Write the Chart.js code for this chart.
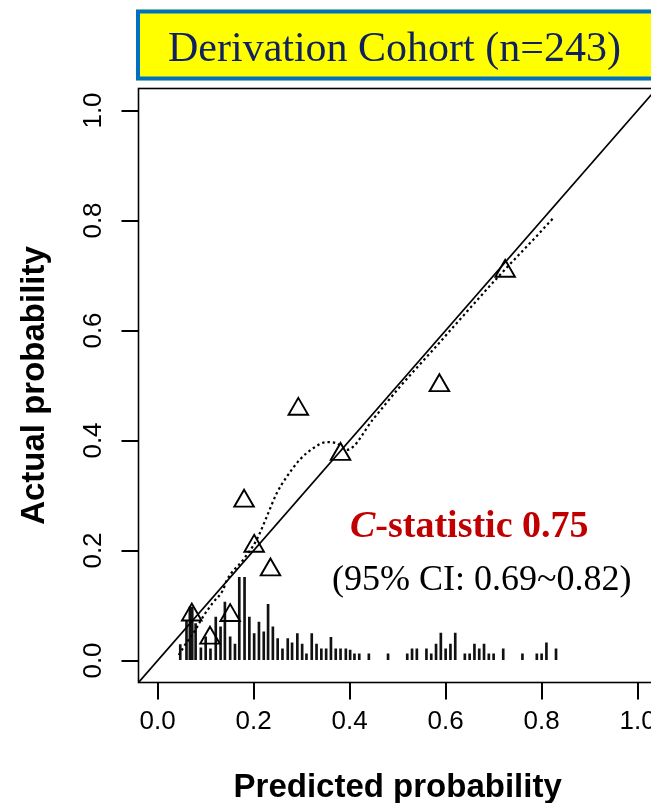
<!DOCTYPE html>
<html><head><meta charset="utf-8">
<script src="https://cdn.jsdelivr.net/npm/chart.js@4.4.1/dist/chart.umd.min.js"></script>
<style>
html,body{margin:0;padding:0;overflow:hidden;background:#fff;width:651px;height:803px}
canvas{display:block}
</style></head>
<body>
<canvas id="c" width="670" height="820"></canvas>
<script>
// ---- text ----
const titleText = "Derivation Cohort (n=243)";
const statC = "C";
const statRest = "-statistic 0.75";
const ciText = "(95% CI: 0.69~0.82)";
const xAxisTitle = "Predicted probability";
const yAxisTitle = "Actual probability";
const tickValues = [0, 0.2, 0.4, 0.6, 0.8, 1.0];

// ---- grouped observations (triangles) ----
const groupPred = [0.071, 0.109, 0.151, 0.180, 0.201, 0.235, 0.293, 0.381, 0.587, 0.724];
const groupObs  = [0.083, 0.041, 0.082, 0.290, 0.208, 0.165, 0.457, 0.375, 0.500, 0.708];

// ---- smoothed calibration curve (dotted) ----
const curveX = [0.044, 0.053, 0.078, 0.094, 0.115, 0.136, 0.144, 0.178, 0.206, 0.227, 0.248, 0.269, 0.296, 0.324, 0.352, 0.373, 0.394, 0.450, 0.505, 0.574, 0.644, 0.713, 0.790, 0.826];
const curveY = [0.010, 0.023, 0.055, 0.079, 0.105, 0.128, 0.146, 0.183, 0.219, 0.261, 0.304, 0.334, 0.365, 0.386, 0.397, 0.395, 0.383, 0.440, 0.498, 0.565, 0.634, 0.701, 0.772, 0.806];

// ---- ideal line ----
const idealX = [-0.04, 1.04];
const idealY = [-0.04, 1.04];

// ---- spike histogram of predicted probabilities ----
const spikeX = [0.047, 0.060, 0.067, 0.072, 0.079, 0.090, 0.100, 0.110, 0.121, 0.131, 0.140, 0.151, 0.161, 0.170, 0.181, 0.191, 0.201, 0.211, 0.221, 0.230, 0.240, 0.250, 0.260, 0.271, 0.280, 0.291, 0.301, 0.310, 0.321, 0.331, 0.341, 0.351, 0.361, 0.371, 0.381, 0.392, 0.401, 0.410, 0.420, 0.440, 0.480, 0.520, 0.530, 0.540, 0.560, 0.570, 0.580, 0.590, 0.600, 0.610, 0.620, 0.640, 0.650, 0.660, 0.670, 0.680, 0.690, 0.700, 0.720, 0.760, 0.790, 0.800, 0.810, 0.830];
const spikeH = [0.029, 0.073, 0.097, 0.097, 0.067, 0.023, 0.043, 0.021, 0.079, 0.061, 0.106, 0.043, 0.030, 0.151, 0.151, 0.079, 0.049, 0.070, 0.052, 0.102, 0.061, 0.040, 0.021, 0.040, 0.032, 0.049, 0.030, 0.012, 0.049, 0.030, 0.021, 0.021, 0.042, 0.021, 0.021, 0.021, 0.019, 0.012, 0.012, 0.012, 0.012, 0.012, 0.021, 0.021, 0.021, 0.012, 0.030, 0.050, 0.021, 0.030, 0.050, 0.012, 0.012, 0.030, 0.021, 0.030, 0.012, 0.012, 0.021, 0.012, 0.012, 0.012, 0.032, 0.021];

const toXY = (xs, ys) => xs.map((x, i) => ({x: x, y: ys[i]}));

const SANS = '"Liberation Sans", Arial, sans-serif';
const SERIF = '"Liberation Serif", "Times New Roman", serif';
const TICK_LEN = 17;

const decor = {
  id: 'decor',
  beforeDraw(chart) {
    const ctx = chart.ctx;
    ctx.save();
    ctx.fillStyle = '#FFFF00';
    ctx.fillRect(136, 9.5, 600, 71);
    ctx.strokeStyle = '#0070C0';
    ctx.lineWidth = 4;
    ctx.strokeRect(138, 11.5, 600, 67);
    ctx.fillStyle = '#10215F';
    ctx.font = '42px ' + SERIF;
    ctx.textBaseline = 'alphabetic';
    ctx.textAlign = 'left';
    ctx.fillText(titleText, 168, 61);
    ctx.restore();
  },
  afterDraw(chart) {
    const ctx = chart.ctx;
    const a = chart.chartArea;
    const xs = chart.scales.x, ys = chart.scales.y;
    ctx.save();
    ctx.setLineDash([]);
    ctx.strokeStyle = '#000';
    ctx.lineWidth = 1.6;
    ctx.strokeRect(a.left, a.top, a.right - a.left, a.bottom - a.top);
    // axis tick marks, placed by the library's scales
    ctx.lineWidth = 2;
    xs.ticks.forEach(t => {
      const px = Math.round(xs.getPixelForValue(t.value));
      ctx.beginPath(); ctx.moveTo(px, a.bottom); ctx.lineTo(px, a.bottom + TICK_LEN); ctx.stroke();
    });
    ys.ticks.forEach(t => {
      const py = Math.round(ys.getPixelForValue(t.value));
      ctx.beginPath(); ctx.moveTo(a.left, py); ctx.lineTo(a.left - TICK_LEN, py); ctx.stroke();
    });
    // statistics text
    ctx.textBaseline = 'alphabetic';
    ctx.textAlign = 'left';
    ctx.fillStyle = '#C00000';
    ctx.font = 'italic bold 38px ' + SERIF;
    ctx.fillText(statC, 350, 537);
    const w = ctx.measureText(statC).width;
    ctx.font = 'bold 38px ' + SERIF;
    ctx.fillText(statRest, 350 + w, 537);
    ctx.fillStyle = '#000';
    ctx.font = '36px ' + SERIF;
    ctx.fillText(ciText, 332, 589.5);
    ctx.restore();
  }
};

const gridOpts = {
  offset: false, drawOnChartArea: false, drawTicks: true, tickLength: TICK_LEN,
  color: 'rgba(0,0,0,0)', lineWidth: 1.5, tickColor: 'rgba(0,0,0,0)', tickWidth: 1.5
};

new Chart(document.getElementById('c'), {
  type: 'scatter',
  data: {
    datasets: [
      {
        type: 'scatter',
        label: 'Grouped observations',
        data: toXY(groupPred, groupObs),
        pointStyle: 'triangle',
        pointRadius: 11.3,
        pointBorderWidth: 1.9,
        borderColor: '#000',
        backgroundColor: 'rgba(0,0,0,0)',
        order: 1
      },
      {
        type: 'line',
        label: 'Ideal',
        data: toXY(idealX, idealY),
        borderColor: '#000',
        borderWidth: 1.7,
        pointRadius: 0,
        showLine: true,
        fill: false,
        order: 2
      },
      {
        type: 'line',
        label: 'Nonparametric',
        data: toXY(curveX, curveY),
        borderColor: '#000',
        borderWidth: 2.2,
        borderDash: [2.4, 3],
        pointRadius: 0,
        showLine: true,
        fill: false,
        cubicInterpolationMode: 'monotone',
        order: 3
      },
      {
        type: 'bar',
        label: 'Spikes',
        data: toXY(spikeX, spikeH),
        backgroundColor: '#111',
        borderWidth: 0,
        barThickness: 2,
        order: 4
      }
    ]
  },
  options: {
    responsive: false,
    animation: false,
    events: [],
    layout: { padding: { top: 88.5, right: 12.8, left: 0, bottom: 0 } },
    plugins: { legend: { display: false }, tooltip: { enabled: false }, title: { display: false } },
    scales: {
      x: {
        type: 'linear',
        min: -0.04, max: 1.04,
        offset: false,
        afterBuildTicks: (s) => { s.ticks = tickValues.map(v => ({value: v})); },
        afterFit: (s) => { s.height = 820 - 682.5; },
        border: { display: false },
        grid: gridOpts,
        ticks: {
          includeBounds: false, autoSkip: false, maxRotation: 0, minRotation: 0,
          padding: 6.4, color: '#000',
          font: { family: SANS, size: 26 },
          callback: (v) => Number(v).toFixed(1)
        },
        title: {
          display: true, text: xAxisTitle, color: '#000',
          font: { family: SANS, size: 33, weight: 'bold' },
          padding: { top: 0, bottom: 12.2 }
        }
      },
      y: {
        type: 'linear',
        min: -0.04, max: 1.04,
        offset: false,
        afterBuildTicks: (s) => { s.ticks = tickValues.map(v => ({value: v})); },
        afterFit: (s) => { s.width = 138.5; },
        border: { display: false },
        grid: gridOpts,
        ticks: {
          includeBounds: false, autoSkip: false, minRotation: 90, maxRotation: 90,
          crossAlign: 'center', padding: 9.5, color: '#000',
          font: { family: SANS, size: 26 },
          callback: (v) => Number(v).toFixed(1)
        },
        title: {
          display: true, text: yAxisTitle, color: '#000',
          font: { family: SANS, size: 33, weight: 'bold' },
          padding: { top: 15, bottom: 0 }
        }
      }
    }
  },
  plugins: [decor]
});
</script>
</body></html>
